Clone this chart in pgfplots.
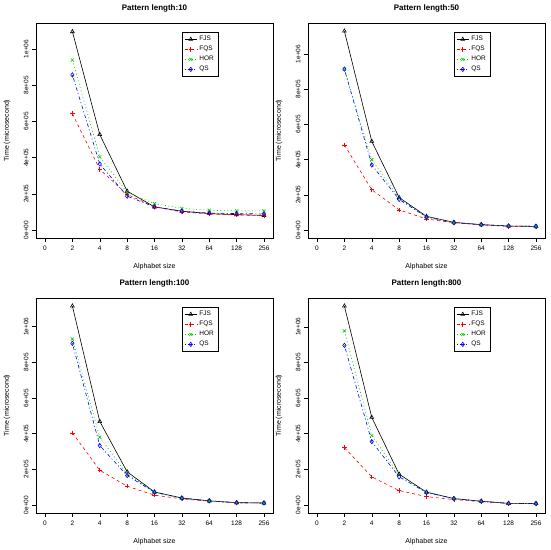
\documentclass[border=0pt]{standalone}
\usepackage{fontspec}
\setmainfont{Liberation Sans}
\usepackage{pgfplots}
\usepackage{pgfplotstable}
\pgfplotsset{compat=1.18}
\definecolor{rgreen}{RGB}{0,205,0}

% x: 1..8 stand for alphabet sizes 2..256
\pgfplotstableread{
x fjs fqs hor qs
1 1096000 643000 939000 857000
2 528000 335000 405000 365000
3 215000 197000 207000 187000
4 128000 128000 146000 128000
5 104000 100000 120000 104000
6 91000 89000 109000 94000
7 85000 83000 106000 91000
8 81000 80000 106000 89000
}\tabA
\pgfplotstableread{
x fjs fqs hor qs
1 1130000 483000 914000 914000
2 504000 229000 400000 370000
3 185000 115000 180000 174000
4 78000 63000 74000 74000
5 44000 42000 43000 42000
6 31000 29000 31000 31000
7 23000 21000 23000 23000
8 21000 19000 21000 21000
}\tabB
\pgfplotstableread{
x fjs fqs hor qs
1 1115000 404000 930000 906000
2 468000 195000 380000 333000
3 186000 105000 173000 165000
4 73000 55000 71000 71000
5 39000 34000 38000 38000
6 23000 21000 23000 23000
7 13000 13000 13000 13000
8 11000 11000 11000 11000
}\tabC
\pgfplotstableread{
x fjs fqs hor qs
1 1117000 322000 977000 896000
2 492000 158000 390000 356000
3 173000 81000 168000 158000
4 72000 47000 70000 70000
5 36000 30000 36000 36000
6 21000 19000 21000 21000
7 9000 9000 9000 9000
8 8000 8000 8000 8000
}\tabD

\pgfplotsset{
  panel/.style={
    scale only axis, width=237pt, height=215pt, anchor=south west,
    xmin=-0.33, xmax=8.33,
    xtick={0,...,8}, xticklabels={0,2,4,8,16,32,64,128,256},
    ytick={0,200000,400000,600000,800000,1000000},
    yticklabels={0e+00,2e+05,4e+05,6e+05,8e+05,1e+06},
    scaled y ticks=false,
    /pgf/number format/assume math mode=true,
    tick align=outside, tick pos=left, major tick length=4pt,
    tick style={black, line width=0.5pt},
    axis line style={line width=0.6pt},
    ticklabel style={font=\fontsize{6.5}{7}\selectfont},
    yticklabel style={rotate=90, anchor=south},
    xlabel={Alphabet size}, ylabel={Time (microsecond)},
    label style={font=\fontsize{7}{8}\selectfont},
    x label style={at={(axis description cs:0.5,0)}, anchor=center, yshift=-29pt},
    y label style={at={(axis description cs:0,0.5)}, anchor=center, rotate=0, yshift=29pt},
    title style={font=\bfseries\fontsize{8}{9}\selectfont, at={(axis description cs:0.5,1)}, anchor=center, yshift=9pt},
    legend style={at={(0.616,0.958)}, anchor=north west, draw=black, line width=0.5pt,
      font=\fontsize{6.5}{7}\selectfont, inner sep=2pt, row sep=0pt},
    legend cell align=left,
    legend image code/.code={\draw[mark repeat=2,mark phase=2] plot coordinates {(0cm,0cm) (0.22cm,0cm) (0.44cm,0cm)};},
    every axis plot/.append style={line width=0.6pt, mark size=2.2pt},
  },
  sfjs/.style={black, solid, mark=triangle, mark options={solid}},
  sfqs/.style={red, dash pattern=on 3pt off 3pt, mark=+, mark options={solid}},
  shor/.style={rgreen, dash pattern=on 1pt off 2.5pt, mark=x, mark options={solid}},
  sqs/.style={blue, dash pattern=on 1pt off 2.5pt on 3.5pt off 2.5pt, mark=diamond, mark options={solid}},
}

\newcommand{\series}[1]{%
  \addplot[sfjs] table[x=x, y=fjs] {#1};
  \addplot[sfqs] table[x=x, y=fqs] {#1};
  \addplot[shor] table[x=x, y=hor] {#1};
  \addplot[sqs] table[x=x, y=qs] {#1};
  \legend{FJS, FQS, HOR, QS}
}

\begin{document}
\begin{tikzpicture}
\useasboundingbox (0pt,0pt) rectangle (550pt,550pt);

\begin{axis}[panel, at={(36pt,312pt)}, title={Pattern length:10},
  ymin=-44000, ymax=1144000]
\series{\tabA}
\end{axis}

\begin{axis}[panel, at={(308pt,312pt)}, title={Pattern length:50},
  ymin=-45000, ymax=1176000]
\series{\tabB}
\end{axis}

\begin{axis}[panel, at={(36pt,37pt)}, title={Pattern length:100},
  ymin=-45000, ymax=1160000]
\series{\tabC}
\end{axis}

\begin{axis}[panel, at={(308pt,37pt)}, title={Pattern length:800},
  ymin=-45000, ymax=1162000]
\series{\tabD}
\end{axis}
\end{tikzpicture}
\end{document}
